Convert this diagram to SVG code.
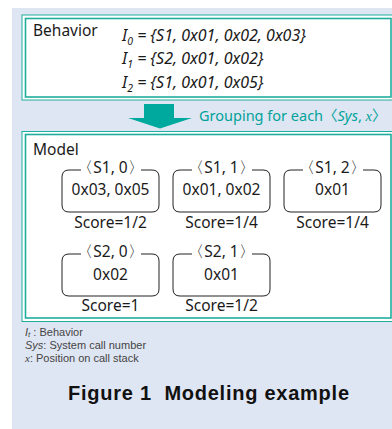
<svg xmlns="http://www.w3.org/2000/svg" width="392" height="429" viewBox="0 0 392 429">
<style>
.frame-o{fill:#fff;stroke:#1fae9e;stroke-width:1}
.frame-i{fill:#fff;stroke:#1fae9e;stroke-width:1.6}
.t{font-family:"Noto Sans","Open Sans",sans-serif;fill:#1a1a1a}
.main{font-size:15.5px}
.it{font-style:italic;font-size:16px}
.box{fill:none;stroke:#222;stroke-width:1}
.lab{font-size:15.5px;text-anchor:middle}
.leg{font-family:"Liberation Sans",Arial,sans-serif;font-size:11px;fill:#444}
</style>
<rect x="12" y="8" width="380" height="421" fill="#dfe6f3"/>
<g id="behavior">
<rect class="frame-o" x="22" y="15" width="380" height="85"/>
<rect class="frame-i" x="25.5" y="18.5" width="365.5" height="78.5"/>
<text class="t main" x="33" y="35.5">Behavior</text>
<text class="t it" x="122" y="40.5">I<tspan font-size="10.5" dy="4">0</tspan><tspan dy="-4"> = {S1, 0x01, 0x02, 0x03}</tspan></text>
<text class="t it" x="122" y="64">I<tspan font-size="10.5" dy="4">1</tspan><tspan dy="-4"> = {S2, 0x01, 0x02}</tspan></text>
<text class="t it" x="122" y="87.5">I<tspan font-size="10.5" dy="4">2</tspan><tspan dy="-4"> = {S1, 0x01, 0x05}</tspan></text>
</g>
<g id="connectors">
<path d="M144,104 H174 V118 H192 L160,128.5 L128,118 H144 Z" fill="#00a99d"/>
<text x="199" y="121" font-family="Noto Sans, sans-serif" font-size="14.5" fill="#00a39a">Grouping for each<tspan font-family="Noto Sans CJK JP, sans-serif">〈</tspan><tspan font-style="italic">Sys</tspan>, <tspan font-family="Liberation Serif, serif" font-style="italic">x</tspan><tspan font-family="Noto Sans CJK JP, sans-serif">〉</tspan></text>
</g>
<g id="model">
<rect class="frame-o" x="22" y="131.5" width="380" height="190"/>
<rect class="frame-i" x="25.5" y="134.5" width="365.5" height="183.5"/>
<text class="t main" x="33" y="155">Model</text>
</g>
<g id="s1-0">
<path class="box" d="M81,170 H69 Q62,170 62,177 V205 Q62,212 69,212 H152 Q159,212 159,205 V177 Q159,170 152,170 H141"/>
<text class="t lab" x="110.5" y="172.5">〈S1, 0〉</text>
<text class="t lab" x="110.5" y="195">0x03, 0x05</text>
<text class="t lab" x="110.5" y="228">Score=1/2</text>
</g>
<g id="s1-1">
<path class="box" d="M192,170 H180 Q173,170 173,177 V205 Q173,212 180,212 H263 Q270,212 270,205 V177 Q270,170 263,170 H252"/>
<text class="t lab" x="221.5" y="172.5">〈S1, 1〉</text>
<text class="t lab" x="221.5" y="195">0x01, 0x02</text>
<text class="t lab" x="221.5" y="228">Score=1/4</text>
</g>
<g id="s1-2">
<path class="box" d="M303,170 H291 Q284,170 284,177 V205 Q284,212 291,212 H374 Q381,212 381,205 V177 Q381,170 374,170 H363"/>
<text class="t lab" x="332.5" y="172.5">〈S1, 2〉</text>
<text class="t lab" x="332.5" y="195">0x01</text>
<text class="t lab" x="332.5" y="228">Score=1/4</text>
</g>
<g id="s2-0">
<path class="box" d="M81,254 H69 Q62,254 62,261 V289 Q62,296 69,296 H152 Q159,296 159,289 V261 Q159,254 152,254 H141"/>
<text class="t lab" x="110.5" y="257">〈S2, 0〉</text>
<text class="t lab" x="110.5" y="280">0x02</text>
<text class="t lab" x="110.5" y="311">Score=1</text>
</g>
<g id="s2-1">
<path class="box" d="M192,254 H180 Q173,254 173,261 V289 Q173,296 180,296 H263 Q270,296 270,289 V261 Q270,254 263,254 H252"/>
<text class="t lab" x="221.5" y="257">〈S2, 1〉</text>
<text class="t lab" x="221.5" y="280">0x01</text>
<text class="t lab" x="221.5" y="311">Score=1/2</text>
</g>
<g id="legend">
<text class="leg" x="25" y="336"><tspan font-style="italic">I</tspan><tspan font-style="italic" font-size="8" dy="1">t</tspan><tspan dy="-1"> : Behavior</tspan></text>
<text class="leg" x="25" y="349"><tspan font-style="italic">Sys</tspan>: System call number</text>
<text class="leg" x="25" y="362"><tspan font-family="Liberation Serif, serif" font-style="italic">x</tspan>: Position on call stack</text>
</g>
<text x="68" y="400" font-family="Liberation Sans, Arial, sans-serif" font-weight="bold" font-size="20" fill="#111" textLength="281" lengthAdjust="spacing" style="white-space:pre">Figure 1  Modeling example</text>
</svg>
